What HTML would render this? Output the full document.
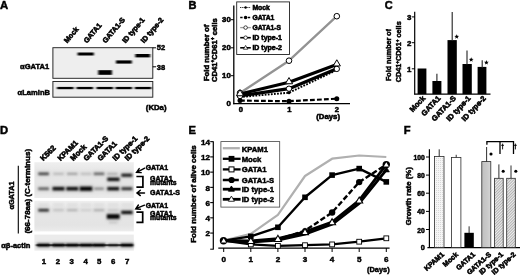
<!DOCTYPE html>
<html>
<head>
<meta charset="utf-8">
<title>Figure</title>
<style>
html,body{margin:0;padding:0;background:#fff;}
body{width:520px;height:276px;overflow:hidden;}
svg{display:block;}
text{font-family:"Liberation Sans",sans-serif;font-weight:bold;fill:#000;stroke:#000;}
svg{stroke-width:0.48px;}
</style>
</head>
<body>
<svg width="520" height="276" viewBox="0 0 520 276">
<defs>
<filter id="bl" x="-20%" y="-80%" width="140%" height="260%"><feGaussianBlur stdDeviation="0.9 0.7"/></filter>
<filter id="bl2" x="-30%" y="-150%" width="160%" height="400%"><feGaussianBlur stdDeviation="1.25 0.8"/></filter>
<filter id="bl3" x="-30%" y="-150%" width="160%" height="400%"><feGaussianBlur stdDeviation="1.6 1.5"/></filter>
<filter id="soft"><feGaussianBlur stdDeviation="0.38"/></filter>
<linearGradient id="gbg" x1="0" y1="0" x2="0" y2="1"><stop offset="0" stop-color="#efefef"/><stop offset="0.25" stop-color="#e6e6e6"/><stop offset="0.8" stop-color="#e4e4e4"/><stop offset="1" stop-color="#ececec"/></linearGradient>
<linearGradient id="gbar" x1="0" y1="0" x2="1" y2="0"><stop offset="0" stop-color="#c0c0c0"/><stop offset="0.6" stop-color="#cacaca"/><stop offset="1" stop-color="#d6d6d6"/></linearGradient>
<pattern id="hatch" width="2" height="2" patternUnits="userSpaceOnUse" patternTransform="rotate(45)">
<rect width="2" height="2" fill="#ededed"/><rect width="1" height="2" fill="#b2b2b2"/>
</pattern>
<pattern id="dots" width="2" height="2" patternUnits="userSpaceOnUse">
<rect width="2" height="2" fill="#f6f6f6"/><rect width="1" height="1" fill="#d8d8d8"/>
</pattern>
</defs>
<rect width="520" height="276" fill="#fff"/>
<g filter="url(#soft)">
<g id="pA">
<text x="0" y="8.5" font-size="11.3">A</text>
<text transform="translate(67.2,43.6) rotate(-50)" font-size="7.25" stroke-width="0.58">Mock</text>
<text transform="translate(86.9,43.6) rotate(-50)" font-size="7.25" stroke-width="0.58">GATA1</text>
<text transform="translate(105.7,43.6) rotate(-50)" font-size="7.25" stroke-width="0.58">GATA1-S</text>
<text transform="translate(125.5,43.6) rotate(-50)" font-size="7.25" stroke-width="0.58">ID type-1</text>
<text transform="translate(144.1,43.6) rotate(-50)" font-size="7.25" stroke-width="0.58">ID type-2</text>
<rect x="52.9" y="47.7" width="99.9" height="30.6" fill="#eeeeee" stroke="#222" stroke-width="0.95"/>
<rect x="52.9" y="81.5" width="99.9" height="15.7" fill="#eeeeee" stroke="#222" stroke-width="0.95"/>
<g filter="url(#bl)" fill="#0a0a0a">
<rect x="77.6" y="52.5" width="16.2" height="3" fill="#000"/>
<rect x="98.2" y="70.2" width="13.8" height="4.6" fill="#000"/>
<rect x="116" y="60.4" width="15.8" height="3.2" fill="#000"/>
<rect x="135.3" y="54" width="14.8" height="3.4" fill="#000"/>
<rect x="57" y="86.9" width="16.6" height="2.3" fill="#000"/>
<rect x="76.5" y="86.9" width="16.6" height="2.3" fill="#000"/>
<rect x="96.5" y="86.9" width="16.6" height="2.3" fill="#000"/>
<rect x="115.5" y="86.9" width="16.6" height="2.3" fill="#000"/>
<rect x="134.8" y="86.9" width="16.6" height="2.3" fill="#000"/>
</g>
<line x1="152.7" y1="47.8" x2="156" y2="47.8" stroke="#000" stroke-width="1"/>
<line x1="152.7" y1="66.8" x2="156" y2="66.8" stroke="#000" stroke-width="1"/>
<text x="156.8" y="50" font-size="7.8" textLength="8.4" lengthAdjust="spacingAndGlyphs">52</text>
<text x="156.8" y="69.8" font-size="7.8" textLength="8.4" lengthAdjust="spacingAndGlyphs">38</text>
<text x="20" y="68.6" font-size="7.5" textLength="29.2" lengthAdjust="spacingAndGlyphs">αGATA1</text>
<text x="17.6" y="94.6" font-size="7.5" textLength="32.4" lengthAdjust="spacingAndGlyphs">αLaminB</text>
<text x="145.8" y="110.4" font-size="7.4" textLength="20.7" lengthAdjust="spacingAndGlyphs">(KDa)</text>
</g>
<g id="pB" style="stroke-width:0.55px">
<text x="188.5" y="8.5" font-size="11">B</text>
<text transform="translate(208.7,81.2) rotate(-90)" font-size="7.7" textLength="56.5" lengthAdjust="spacingAndGlyphs">Fold number of</text>
<text transform="translate(217.0,82) rotate(-90)" font-size="7.7" textLength="63.8" lengthAdjust="spacingAndGlyphs">CD41<tspan font-size="4.8" dy="-2.6">+</tspan><tspan dy="2.6">CD61</tspan><tspan font-size="4.8" dy="-2.6">+</tspan><tspan dy="2.6"> cells</tspan></text>
<line x1="233.8" y1="5.5" x2="233.8" y2="104.2" stroke="#000" stroke-width="1.3"/>
<line x1="233.2" y1="103.6" x2="350" y2="103.6" stroke="#000" stroke-width="1.4"/>
<line x1="231" y1="19.7" x2="234" y2="19.7" stroke="#000" stroke-width="1"/>
<line x1="231" y1="47.8" x2="234" y2="47.8" stroke="#000" stroke-width="1"/>
<line x1="231" y1="75.7" x2="234" y2="75.7" stroke="#000" stroke-width="1"/>
<text x="230.8" y="21.9" font-size="7.8" text-anchor="end">30</text>
<text x="230.8" y="50.0" font-size="7.8" text-anchor="end">20</text>
<text x="230.8" y="78.0" font-size="7.8" text-anchor="end">10</text>
<text x="230.8" y="106.3" font-size="7.8" text-anchor="end">0</text>
<text x="240.8" y="112.3" font-size="7.6" text-anchor="middle">0</text>
<text x="289.3" y="112.3" font-size="7.6" text-anchor="middle">1</text>
<text x="336.8" y="112.3" font-size="7.6" text-anchor="middle">2</text>
<text x="316.2" y="119.4" font-size="7.5" textLength="23.8" lengthAdjust="spacingAndGlyphs">(Days)</text>
<polyline points="240,93 289,60.7 336.8,16.2" fill="none" stroke="#939393" stroke-width="2.3" stroke-linejoin="round"/>
<polyline points="240,95.8 289,88.7 336.8,68.8" fill="none" stroke="#000" stroke-width="3.2" stroke-linejoin="round"/>
<polyline points="240,94 289,82.2 336.8,64.6" fill="none" stroke="#000" stroke-width="3.2" stroke-linejoin="round"/>
<polyline points="240,97 289,92.7 336.8,70" fill="none" stroke="#000" stroke-width="1.9" stroke-linejoin="round" stroke-dasharray="1.8 1.3"/>
<polyline points="240,100.6 289,101.2 336.8,98.7" fill="none" stroke="#000" stroke-width="2.2" stroke-linejoin="round" stroke-dasharray="4.8 2.2"/>
<circle cx="240" cy="93" r="2.8" fill="#fff" stroke="#000" stroke-width="1"/>
<circle cx="289" cy="60.7" r="2.8" fill="#fff" stroke="#000" stroke-width="1"/>
<circle cx="336.8" cy="16.2" r="2.8" fill="#fff" stroke="#000" stroke-width="1"/>
<circle cx="240" cy="96" r="2.7" fill="#fff" stroke="#000" stroke-width="1"/>
<circle cx="289" cy="88.7" r="2.7" fill="#fff" stroke="#000" stroke-width="1"/>
<circle cx="336.8" cy="68.9" r="2.7" fill="#fff" stroke="#000" stroke-width="1"/>
<path d="M240,89.56 L243.60,95.76 L236.40,95.76Z" fill="#fff" stroke="#000" stroke-width="1"/>
<path d="M289,77.56 L292.60,83.76 L285.40,83.76Z" fill="#fff" stroke="#000" stroke-width="1"/>
<path d="M336.8,59.76 L340.40,65.96 L333.20,65.96Z" fill="#fff" stroke="#000" stroke-width="1"/>
<circle cx="240" cy="100.6" r="2.5" fill="#000"/>
<circle cx="289" cy="101.2" r="2.5" fill="#000"/>
<circle cx="336.8" cy="98.7" r="2.5" fill="#000"/>
<circle cx="289" cy="92.8" r="1.5" fill="#000"/>
<rect x="236.7" y="1.9" width="52.8" height="52.6" fill="#fff" stroke="#222" stroke-width="0.9"/>
<text x="252.4" y="9.9" font-size="7" textLength="17.4" lengthAdjust="spacingAndGlyphs">Mock</text>
<text x="252.4" y="19.98" font-size="7" textLength="22" lengthAdjust="spacingAndGlyphs">GATA1</text>
<text x="252.4" y="30.060000000000002" font-size="7" textLength="28.7" lengthAdjust="spacingAndGlyphs">GATA1-S</text>
<text x="252.4" y="40.14" font-size="7" textLength="29.5" lengthAdjust="spacingAndGlyphs">ID type-1</text>
<text x="252.4" y="50.22" font-size="7" textLength="29.5" lengthAdjust="spacingAndGlyphs">ID type-2</text>
<line x1="240.2" y1="7.5" x2="250.8" y2="7.5" stroke="#000" stroke-width="1" stroke-dasharray="1.1 1"/>
<circle cx="245.6" cy="7.5" r="1.2" fill="#000"/>
<line x1="240.2" y1="17.5" x2="250.8" y2="17.5" stroke="#000" stroke-width="1.3" stroke-dasharray="2.4 1.4"/>
<circle cx="245.6" cy="17.5" r="1.7" fill="#000"/>
<line x1="240.2" y1="27.6" x2="250.8" y2="27.6" stroke="#999" stroke-width="1.3"/>
<circle cx="245.6" cy="27.6" r="1.8" fill="#fff" stroke="#000" stroke-width="0.7"/>
<line x1="240.2" y1="37.7" x2="250.8" y2="37.7" stroke="#000" stroke-width="1.6"/>
<circle cx="245.6" cy="37.7" r="1.8" fill="#fff" stroke="#000" stroke-width="0.7"/>
<line x1="240.2" y1="47.8" x2="250.8" y2="47.8" stroke="#000" stroke-width="1.6"/>
<path d="M245.6,45.44 L247.80,49.24 L243.40,49.24Z" fill="#fff" stroke="#000" stroke-width="0.7"/>
</g>
<g id="pC">
<text x="384.7" y="8.6" font-size="11">C</text>
<text transform="translate(391.2,81) rotate(-90)" font-size="7.3" textLength="52" lengthAdjust="spacingAndGlyphs">Fold number of</text>
<text transform="translate(401.2,82.3) rotate(-90)" font-size="7.3" textLength="61" lengthAdjust="spacingAndGlyphs">CD41<tspan font-size="4.8" dy="-2.6">+</tspan><tspan dy="2.6">CD61</tspan><tspan font-size="4.8" dy="-2.6">+</tspan><tspan dy="2.6"> cells</tspan></text>
<line x1="414.7" y1="11.8" x2="414.7" y2="94.6" stroke="#000" stroke-width="1.2"/>
<line x1="414.2" y1="94.1" x2="490.5" y2="94.1" stroke="#000" stroke-width="1.2"/>
<line x1="411.8" y1="16.9" x2="415" y2="16.9" stroke="#000" stroke-width="1"/>
<line x1="411.8" y1="42.7" x2="415" y2="42.7" stroke="#000" stroke-width="1"/>
<line x1="411.8" y1="68.8" x2="415" y2="68.8" stroke="#000" stroke-width="1"/>
<text x="411.3" y="19.8" font-size="7.9" text-anchor="end">3</text>
<text x="411.3" y="45.7" font-size="7.9" text-anchor="end">2</text>
<text x="411.3" y="71.7" font-size="7.9" text-anchor="end">1</text>
<rect x="417.6" y="68.5" width="8.8" height="25.6" fill="#000"/>
<rect x="432.4" y="81" width="9" height="13.1" fill="#000"/>
<rect x="447.5" y="40.1" width="9.3" height="54" fill="#000"/>
<rect x="462.5" y="64" width="9.3" height="30.1" fill="#000"/>
<rect x="477.6" y="66.9" width="8.8" height="27.2" fill="#000"/>
<line x1="436.9" y1="73.8" x2="436.9" y2="81" stroke="#222" stroke-width="1.1"/>
<line x1="452.2" y1="12" x2="452.2" y2="41" stroke="#222" stroke-width="1.1"/>
<line x1="467" y1="50.5" x2="467" y2="64.5" stroke="#222" stroke-width="1.1"/>
<line x1="482.2" y1="60.2" x2="482.2" y2="68" stroke="#222" stroke-width="1.1"/>
<polygon points="456.70,34.20 457.32,35.85 459.08,35.93 457.70,37.02 458.17,38.72 456.70,37.75 455.23,38.72 455.70,37.02 454.32,35.93 456.08,35.85" fill="#000"/>
<polygon points="471.20,57.20 471.82,58.85 473.58,58.93 472.20,60.02 472.67,61.72 471.20,60.75 469.73,61.72 470.20,60.02 468.82,58.93 470.58,58.85" fill="#000"/>
<polygon points="486.40,60.10 487.02,61.75 488.78,61.83 487.40,62.92 487.87,64.62 486.40,63.65 484.93,64.62 485.40,62.92 484.02,61.83 485.78,61.75" fill="#000"/>
<text transform="translate(425.8,98.6) rotate(-47)" font-size="7.5" text-anchor="end" stroke-width="0.58">Mock</text>
<text transform="translate(441,98.6) rotate(-47)" font-size="7.5" text-anchor="end" stroke-width="0.58">GATA1</text>
<text transform="translate(456.4,98.6) rotate(-47)" font-size="7.5" text-anchor="end" stroke-width="0.58">GATA1-S</text>
<text transform="translate(471.2,98.6) rotate(-47)" font-size="7.5" text-anchor="end" stroke-width="0.58">ID type-1</text>
<text transform="translate(486.4,98.6) rotate(-47)" font-size="7.5" text-anchor="end" stroke-width="0.58">ID type-2</text>
</g>
<g id="pD">
<text x="0" y="133.8" font-size="11.2">D</text>
<text transform="translate(43.3,161.3) rotate(-45)" font-size="7.6" stroke-width="0.6">K562</text>
<text transform="translate(60.5,161.3) rotate(-45)" font-size="7.4" stroke-width="0.6">KPAM1</text>
<text transform="translate(73.3,161.3) rotate(-45)" font-size="7.6" stroke-width="0.6">Mock</text>
<text transform="translate(86.5,161.3) rotate(-45)" font-size="7.4" stroke-width="0.6">GATA1-S</text>
<text transform="translate(100.5,161.3) rotate(-45)" font-size="7.4" stroke-width="0.6">GATA1</text>
<text transform="translate(115.6,161.3) rotate(-45)" font-size="7.45" stroke-width="0.6">ID type-1</text>
<text transform="translate(127.8,161.3) rotate(-45)" font-size="7.45" stroke-width="0.6">ID type-2</text>
<rect x="34.4" y="162.2" width="99.4" height="35.8" fill="url(#gbg)"/>
<rect x="34.4" y="200.8" width="99.4" height="30.6" fill="url(#gbg)"/>
<rect x="34.4" y="234.6" width="99.4" height="16" fill="#ebebeb"/>
<rect x="37.8" y="171.3" width="11.6" height="5.0" fill="#000" fill-opacity="0.12" filter="url(#bl3)"/>
<rect x="38.4" y="172.7" width="10.4" height="2.2" fill="#000" fill-opacity="0.72" filter="url(#bl2)"/>
<rect x="52.7" y="171.5" width="11.6" height="4.6" fill="#000" fill-opacity="0.03" filter="url(#bl3)"/>
<rect x="53.3" y="172.9" width="10.4" height="1.8" fill="#000" fill-opacity="0.20" filter="url(#bl2)"/>
<rect x="66.5" y="171.5" width="11.6" height="4.6" fill="#000" fill-opacity="0.05" filter="url(#bl3)"/>
<rect x="67.1" y="172.9" width="10.4" height="1.8" fill="#000" fill-opacity="0.30" filter="url(#bl2)"/>
<rect x="80.2" y="171.5" width="11.6" height="4.6" fill="#000" fill-opacity="0.03" filter="url(#bl3)"/>
<rect x="80.8" y="172.9" width="10.4" height="1.8" fill="#000" fill-opacity="0.18" filter="url(#bl2)"/>
<rect x="93.2" y="171.3" width="11.6" height="5.0" fill="#000" fill-opacity="0.09" filter="url(#bl3)"/>
<rect x="93.8" y="172.7" width="10.4" height="2.2" fill="#000" fill-opacity="0.55" filter="url(#bl2)"/>
<rect x="106.6" y="171.5" width="11.6" height="4.6" fill="#000" fill-opacity="0.04" filter="url(#bl3)"/>
<rect x="107.2" y="172.9" width="10.4" height="1.8" fill="#000" fill-opacity="0.24" filter="url(#bl2)"/>
<rect x="120.8" y="172.4" width="12.0" height="5.6" fill="#000" fill-opacity="0.14" filter="url(#bl3)"/>
<rect x="121.4" y="173.8" width="10.8" height="2.8" fill="#000" fill-opacity="0.90" filter="url(#bl2)"/>
<rect x="106.8" y="176.4" width="13.2" height="5.8" fill="#000" fill-opacity="0.16" filter="url(#bl3)"/>
<rect x="107.4" y="177.8" width="12.0" height="3.0" fill="#000" fill-opacity="0.97" filter="url(#bl2)"/>
<rect x="37.7" y="186.2" width="11.8" height="5.0" fill="#000" fill-opacity="0.10" filter="url(#bl3)"/>
<rect x="38.3" y="187.6" width="10.6" height="2.2" fill="#000" fill-opacity="0.60" filter="url(#bl2)"/>
<rect x="52.0" y="185.7" width="13.0" height="6.0" fill="#000" fill-opacity="0.16" filter="url(#bl3)"/>
<rect x="52.6" y="187.1" width="11.8" height="3.2" fill="#000" fill-opacity="0.97" filter="url(#bl2)"/>
<rect x="65.8" y="185.7" width="13.0" height="6.0" fill="#000" fill-opacity="0.16" filter="url(#bl3)"/>
<rect x="66.4" y="187.1" width="11.8" height="3.2" fill="#000" fill-opacity="0.97" filter="url(#bl2)"/>
<rect x="79.2" y="185.3" width="13.6" height="6.8" fill="#000" fill-opacity="0.16" filter="url(#bl3)"/>
<rect x="79.8" y="186.7" width="12.4" height="4.0" fill="#000" fill-opacity="1.00" filter="url(#bl2)"/>
<rect x="93.6" y="186.3" width="10.8" height="4.8" fill="#000" fill-opacity="0.06" filter="url(#bl3)"/>
<rect x="94.2" y="187.7" width="9.6" height="2.0" fill="#000" fill-opacity="0.40" filter="url(#bl2)"/>
<rect x="106.8" y="185.8" width="12.8" height="5.8" fill="#000" fill-opacity="0.16" filter="url(#bl3)"/>
<rect x="107.4" y="187.2" width="11.6" height="3.0" fill="#000" fill-opacity="0.97" filter="url(#bl2)"/>
<rect x="120.9" y="186.0" width="12.0" height="5.4" fill="#000" fill-opacity="0.13" filter="url(#bl3)"/>
<rect x="121.5" y="187.4" width="10.8" height="2.6" fill="#000" fill-opacity="0.80" filter="url(#bl2)"/>
<rect x="38.0" y="202.4" width="11.2" height="4.4" fill="#000" fill-opacity="0.01" filter="url(#bl3)"/>
<rect x="38.6" y="203.8" width="10.0" height="1.6" fill="#000" fill-opacity="0.07" filter="url(#bl2)"/>
<rect x="52.9" y="202.4" width="11.2" height="4.4" fill="#000" fill-opacity="0.01" filter="url(#bl3)"/>
<rect x="53.5" y="203.8" width="10.0" height="1.6" fill="#000" fill-opacity="0.07" filter="url(#bl2)"/>
<rect x="66.7" y="202.4" width="11.2" height="4.4" fill="#000" fill-opacity="0.01" filter="url(#bl3)"/>
<rect x="67.3" y="203.8" width="10.0" height="1.6" fill="#000" fill-opacity="0.07" filter="url(#bl2)"/>
<rect x="80.4" y="202.4" width="11.2" height="4.4" fill="#000" fill-opacity="0.01" filter="url(#bl3)"/>
<rect x="81.0" y="203.8" width="10.0" height="1.6" fill="#000" fill-opacity="0.07" filter="url(#bl2)"/>
<rect x="93.4" y="202.4" width="11.2" height="4.4" fill="#000" fill-opacity="0.01" filter="url(#bl3)"/>
<rect x="94.0" y="203.8" width="10.0" height="1.6" fill="#000" fill-opacity="0.07" filter="url(#bl2)"/>
<rect x="107.6" y="202.4" width="11.2" height="4.4" fill="#000" fill-opacity="0.01" filter="url(#bl3)"/>
<rect x="108.2" y="203.8" width="10.0" height="1.6" fill="#000" fill-opacity="0.07" filter="url(#bl2)"/>
<rect x="121.3" y="202.4" width="11.2" height="4.4" fill="#000" fill-opacity="0.01" filter="url(#bl3)"/>
<rect x="121.9" y="203.8" width="10.0" height="1.6" fill="#000" fill-opacity="0.07" filter="url(#bl2)"/>
<rect x="37.8" y="207.6" width="11.6" height="5.2" fill="#000" fill-opacity="0.13" filter="url(#bl3)"/>
<rect x="38.4" y="209.0" width="10.4" height="2.4" fill="#000" fill-opacity="0.82" filter="url(#bl2)"/>
<rect x="52.7" y="207.9" width="11.6" height="4.5" fill="#000" fill-opacity="0.03" filter="url(#bl3)"/>
<rect x="53.3" y="209.3" width="10.4" height="1.7" fill="#000" fill-opacity="0.17" filter="url(#bl2)"/>
<rect x="66.5" y="207.9" width="11.6" height="4.5" fill="#000" fill-opacity="0.04" filter="url(#bl3)"/>
<rect x="67.1" y="209.3" width="10.4" height="1.7" fill="#000" fill-opacity="0.24" filter="url(#bl2)"/>
<rect x="80.2" y="207.9" width="11.6" height="4.5" fill="#000" fill-opacity="0.02" filter="url(#bl3)"/>
<rect x="80.8" y="209.3" width="10.4" height="1.7" fill="#000" fill-opacity="0.10" filter="url(#bl2)"/>
<rect x="93.2" y="207.9" width="11.6" height="4.6" fill="#000" fill-opacity="0.04" filter="url(#bl3)"/>
<rect x="93.8" y="209.3" width="10.4" height="1.8" fill="#000" fill-opacity="0.26" filter="url(#bl2)"/>
<rect x="107.4" y="207.9" width="11.6" height="4.5" fill="#000" fill-opacity="0.02" filter="url(#bl3)"/>
<rect x="108.0" y="209.3" width="10.4" height="1.7" fill="#000" fill-opacity="0.14" filter="url(#bl2)"/>
<rect x="120.7" y="209.5" width="12.4" height="5.8" fill="#000" fill-opacity="0.15" filter="url(#bl3)"/>
<rect x="121.3" y="210.9" width="11.2" height="3.0" fill="#000" fill-opacity="0.95" filter="url(#bl2)"/>
<rect x="106.3" y="212.9" width="13.8" height="7.2" fill="#000" fill-opacity="0.16" filter="url(#bl3)"/>
<rect x="106.9" y="214.3" width="12.6" height="4.4" fill="#000" fill-opacity="1.00" filter="url(#bl2)"/>
<rect x="108.4" y="220.2" width="9.7" height="4.3" fill="#000" fill-opacity="0.02" filter="url(#bl3)"/>
<rect x="109.0" y="221.7" width="8.5" height="1.5" fill="#000" fill-opacity="0.14" filter="url(#bl2)"/>
<rect x="36" y="244.2" width="97" height="2" fill="#000" fill-opacity="0.7" filter="url(#bl)"/>
<rect x="36.7" y="242.3" width="13.8" height="5.6" fill="#000" fill-opacity="0.16" filter="url(#bl3)"/>
<rect x="37.3" y="243.7" width="12.6" height="2.8" fill="#000" fill-opacity="0.97" filter="url(#bl2)"/>
<rect x="51.6" y="242.3" width="13.8" height="5.6" fill="#000" fill-opacity="0.16" filter="url(#bl3)"/>
<rect x="52.2" y="243.7" width="12.6" height="2.8" fill="#000" fill-opacity="0.97" filter="url(#bl2)"/>
<rect x="65.4" y="242.3" width="13.8" height="5.6" fill="#000" fill-opacity="0.16" filter="url(#bl3)"/>
<rect x="66.0" y="243.7" width="12.6" height="2.8" fill="#000" fill-opacity="0.97" filter="url(#bl2)"/>
<rect x="79.1" y="242.3" width="13.8" height="5.6" fill="#000" fill-opacity="0.16" filter="url(#bl3)"/>
<rect x="79.7" y="243.7" width="12.6" height="2.8" fill="#000" fill-opacity="0.97" filter="url(#bl2)"/>
<rect x="92.1" y="242.3" width="13.8" height="5.6" fill="#000" fill-opacity="0.16" filter="url(#bl3)"/>
<rect x="92.7" y="243.7" width="12.6" height="2.8" fill="#000" fill-opacity="0.97" filter="url(#bl2)"/>
<rect x="107.4" y="242.8" width="11.7" height="4.8" fill="#000" fill-opacity="0.12" filter="url(#bl3)"/>
<rect x="108.0" y="244.2" width="10.5" height="2.0" fill="#000" fill-opacity="0.75" filter="url(#bl2)"/>
<rect x="120.0" y="242.3" width="13.8" height="5.6" fill="#000" fill-opacity="0.16" filter="url(#bl3)"/>
<rect x="120.6" y="243.7" width="12.6" height="2.8" fill="#000" fill-opacity="0.97" filter="url(#bl2)"/>
<text x="44" y="263.8" font-size="7.8" text-anchor="middle">1</text>
<text x="58" y="263.8" font-size="7.8" text-anchor="middle">2</text>
<text x="71.6" y="263.8" font-size="7.8" text-anchor="middle">3</text>
<text x="85.6" y="263.8" font-size="7.8" text-anchor="middle">4</text>
<text x="99.1" y="263.8" font-size="7.8" text-anchor="middle">5</text>
<text x="113.1" y="263.8" font-size="7.8" text-anchor="middle">6</text>
<text x="127.2" y="263.8" font-size="7.8" text-anchor="middle">7</text>
<line x1="18.3" y1="165.7" x2="18.3" y2="233.6" stroke="#000" stroke-width="1.1"/>
<text transform="translate(14.2,209.6) rotate(-90)" font-size="7.5" textLength="28.1" lengthAdjust="spacingAndGlyphs">αGATA1</text>
<text transform="translate(29.5,196.7) rotate(-90)" font-size="7.4" textLength="47.8" lengthAdjust="spacingAndGlyphs">(C-terminus)</text>
<text transform="translate(29.6,233.6) rotate(-90)" font-size="7.4" textLength="34.8" lengthAdjust="spacingAndGlyphs">(66-78aa)</text>
<text x="1.2" y="247.5" font-size="7.4" textLength="29.2" lengthAdjust="spacingAndGlyphs">αβ-actin</text>
<text x="145.7" y="169.6" font-size="6.9" textLength="22.5" lengthAdjust="spacingAndGlyphs">GATA1</text>
<text x="150" y="180.6" font-size="6.9" textLength="22.6" lengthAdjust="spacingAndGlyphs">GATA1</text>
<text x="150" y="184.9" font-size="6.9" textLength="26.6" lengthAdjust="spacingAndGlyphs">mutants</text>
<text x="150" y="194.9" font-size="7.1" textLength="30" lengthAdjust="spacingAndGlyphs">GATA1-S</text>
<text x="145.7" y="207.6" font-size="6.9" textLength="22.5" lengthAdjust="spacingAndGlyphs">GATA1</text>
<text x="150" y="216.4" font-size="6.9" textLength="22.6" lengthAdjust="spacingAndGlyphs">GATA1</text>
<text x="150" y="220.3" font-size="6.9" textLength="26.6" lengthAdjust="spacingAndGlyphs">mutants</text>
<g stroke="#000" stroke-width="1.45" fill="none" stroke-linecap="round">
<path d="M144.7,168.2 L136.8,172.3 M139.2,168.6 L136.6,172.4 L141.2,172.6"/>
<path d="M144.5,192.9 L137.2,192.9 M140.3,190.2 L137,192.9 L140.3,195.6"/>
<path d="M144.5,205.2 L136,208.7 M138.4,205 L135.8,208.8 L140.4,209.2"/>
</g>
<path d="M136.4,176.5 H142.9 V187.2 H136.4" fill="none" stroke="#000" stroke-width="1.7"/>
<path d="M136.4,212.2 H142.7 V222.4 H136.4" fill="none" stroke="#000" stroke-width="1.7"/>
</g>
<g id="pE">
<text x="188.4" y="133.8" font-size="11.2">E</text>
<text transform="translate(196.3,242.8) rotate(-90)" font-size="7.6" textLength="97.6" lengthAdjust="spacingAndGlyphs">Fold number of alive cells</text>
<line x1="213.3" y1="141.4" x2="213.3" y2="249.6" stroke="#000" stroke-width="1.2"/>
<line x1="218.3" y1="248.2" x2="389.6" y2="248.2" stroke="#000" stroke-width="1.3"/>
<line x1="210.2" y1="141.66" x2="213.5" y2="141.66" stroke="#000" stroke-width="1.1"/>
<text x="209.9" y="144.96" font-size="8.1" text-anchor="end">14</text>
<line x1="210.2" y1="156.9" x2="213.5" y2="156.9" stroke="#000" stroke-width="1.1"/>
<text x="209.9" y="160.2" font-size="8.1" text-anchor="end">12</text>
<line x1="210.2" y1="172.13" x2="213.5" y2="172.13" stroke="#000" stroke-width="1.1"/>
<text x="209.9" y="175.43" font-size="8.1" text-anchor="end">10</text>
<line x1="210.2" y1="187.36" x2="213.5" y2="187.36" stroke="#000" stroke-width="1.1"/>
<text x="209.9" y="190.66" font-size="8.1" text-anchor="end">8</text>
<line x1="210.2" y1="202.6" x2="213.5" y2="202.6" stroke="#000" stroke-width="1.1"/>
<text x="209.9" y="205.9" font-size="8.1" text-anchor="end">6</text>
<line x1="210.2" y1="217.83" x2="213.5" y2="217.83" stroke="#000" stroke-width="1.1"/>
<text x="209.9" y="221.13" font-size="8.1" text-anchor="end">4</text>
<line x1="210.2" y1="233.07" x2="213.5" y2="233.07" stroke="#000" stroke-width="1.1"/>
<text x="209.9" y="236.37" font-size="8.1" text-anchor="end">2</text>
<line x1="210.2" y1="249.2" x2="213.5" y2="249.2" stroke="#000" stroke-width="1"/>
<line x1="223.7" y1="248" x2="223.7" y2="252" stroke="#000" stroke-width="1"/>
<text x="223.7" y="262.1" font-size="8.1" text-anchor="middle">0</text>
<line x1="250.8" y1="248" x2="250.8" y2="252" stroke="#000" stroke-width="1"/>
<text x="250.8" y="262.1" font-size="8.1" text-anchor="middle">1</text>
<line x1="277.9" y1="248" x2="277.9" y2="252" stroke="#000" stroke-width="1"/>
<text x="277.9" y="262.1" font-size="8.1" text-anchor="middle">2</text>
<line x1="305.0" y1="248" x2="305.0" y2="252" stroke="#000" stroke-width="1"/>
<text x="305.0" y="262.1" font-size="8.1" text-anchor="middle">3</text>
<line x1="332.1" y1="248" x2="332.1" y2="252" stroke="#000" stroke-width="1"/>
<text x="332.1" y="262.1" font-size="8.1" text-anchor="middle">4</text>
<line x1="359.2" y1="248" x2="359.2" y2="252" stroke="#000" stroke-width="1"/>
<text x="359.2" y="262.1" font-size="8.1" text-anchor="middle">5</text>
<line x1="386.3" y1="248" x2="386.3" y2="252" stroke="#000" stroke-width="1"/>
<text x="386.3" y="262.1" font-size="8.1" text-anchor="middle">6</text>
<text x="367" y="272.2" font-size="7.3" textLength="22.6" lengthAdjust="spacingAndGlyphs">(Days)</text>
<polyline points="223.7,240.6 250.8,233.8 277.9,214.8 305.0,176.0 332.1,158.7 359.2,155.5 386.3,157.0" fill="none" stroke="#b0b0b0" stroke-width="2.2" stroke-linejoin="round"/>
<polyline points="223.7,240.6 250.8,244.4 277.9,245.9 305.0,245.2 332.1,244.4 359.2,241.7 386.3,238.3" fill="none" stroke="#000" stroke-width="2.3" stroke-linejoin="round"/>
<polyline points="223.7,240.6 250.8,236.4 277.9,227.3 305.0,197.3 332.1,175.1 359.2,168.6 386.3,181.9" fill="none" stroke="#000" stroke-width="2.4" stroke-linejoin="round"/>
<polyline points="223.7,240.6 250.8,241.4 277.9,239.5 305.0,230.7 332.1,212.5 359.2,182.1 386.3,164.6" fill="none" stroke="#000" stroke-width="2.4" stroke-linejoin="round" stroke-dasharray="5.4 2.4"/>
<polyline points="223.7,240.6 250.8,242.0 277.9,240.2 305.0,234.1 332.1,224.3 359.2,203.4 386.3,169.9" fill="none" stroke="#000" stroke-width="2.8" stroke-linejoin="round"/>
<polyline points="223.7,240.6 250.8,240.8 277.9,238.7 305.0,231.9 332.1,222.0 359.2,200.3 386.3,164.6" fill="none" stroke="#000" stroke-width="2.8" stroke-linejoin="round"/>
<circle cx="223.5" cy="240.7" r="3.7" fill="#000"/>
<rect x="248.0" y="233.6" width="5.6" height="5.6" fill="#000"/>
<rect x="275.1" y="224.5" width="5.6" height="5.6" fill="#000"/>
<rect x="302.2" y="194.5" width="5.6" height="5.6" fill="#000"/>
<rect x="329.3" y="172.3" width="5.6" height="5.6" fill="#000"/>
<rect x="356.4" y="165.8" width="5.6" height="5.6" fill="#000"/>
<rect x="383.5" y="179.1" width="5.6" height="5.6" fill="#000"/>
<circle cx="305.0" cy="230.7" r="2.8" fill="#000"/>
<circle cx="332.1" cy="212.5" r="3.2" fill="#000"/>
<circle cx="359.2" cy="182.1" r="3.2" fill="#000"/>
<circle cx="386.3" cy="164.6" r="3.7" fill="#000"/>
<path d="M386.3,166.55 L389.43,171.95 L383.17,171.95Z" fill="#000" stroke="#000" stroke-width="0.6"/>
<rect x="248.4" y="242.0" width="4.8" height="4.8" fill="#fff" stroke="#000" stroke-width="0.9"/>
<rect x="275.5" y="243.5" width="4.8" height="4.8" fill="#fff" stroke="#000" stroke-width="0.9"/>
<rect x="302.6" y="242.8" width="4.8" height="4.8" fill="#fff" stroke="#000" stroke-width="0.9"/>
<rect x="329.7" y="242.0" width="4.8" height="4.8" fill="#fff" stroke="#000" stroke-width="0.9"/>
<rect x="356.8" y="239.3" width="4.8" height="4.8" fill="#fff" stroke="#000" stroke-width="0.9"/>
<rect x="383.9" y="235.9" width="4.8" height="4.8" fill="#fff" stroke="#000" stroke-width="0.9"/>
<path d="M223.7,238.23 L226.19,242.53 L221.21,242.53Z" fill="#fff" stroke="#000" stroke-width="0"/>
<path d="M250.8,237.36 L254.40,243.56 L247.20,243.56Z" fill="#fff" stroke="#000" stroke-width="1.1"/>
<path d="M277.9,235.26 L281.50,241.46 L274.30,241.46Z" fill="#fff" stroke="#000" stroke-width="1.1"/>
<path d="M305.0,228.58 L308.48,234.58 L301.52,234.58Z" fill="#fff" stroke="#000" stroke-width="1.1"/>
<path d="M332.1,218.68 L335.58,224.68 L328.62,224.68Z" fill="#fff" stroke="#000" stroke-width="1.1"/>
<path d="M359.2,196.98 L362.68,202.98 L355.72,202.98Z" fill="#fff" stroke="#000" stroke-width="1.1"/>
<path d="M386.3,162.23 L388.79,166.53 L383.81,166.53Z" fill="#fff" stroke="#000" stroke-width="0"/>
<rect x="220.9" y="141.6" width="58.8" height="65.5" fill="#fff" stroke="#444" stroke-width="0.8"/>
<text x="241.7" y="151.6" font-size="7.6" textLength="26.3" lengthAdjust="spacingAndGlyphs">KPAM1</text>
<text x="241.7" y="161.8" font-size="7.6" textLength="19.7" lengthAdjust="spacingAndGlyphs">Mock</text>
<text x="241.7" y="172.3" font-size="7.6" textLength="24.9" lengthAdjust="spacingAndGlyphs">GATA1</text>
<text x="241.7" y="182.8" font-size="7.6" textLength="32.4" lengthAdjust="spacingAndGlyphs">GATA1-S</text>
<text x="241.7" y="192.2" font-size="7.6" textLength="32.3" lengthAdjust="spacingAndGlyphs">ID type-1</text>
<text x="241.7" y="202.3" font-size="7.6" textLength="32.3" lengthAdjust="spacingAndGlyphs">ID type-2</text>
<line x1="222.8" y1="148.2" x2="239.8" y2="148.2" stroke="#b0b0b0" stroke-width="2.3"/>
<line x1="222.8" y1="158.8" x2="240.6" y2="158.8" stroke="#000" stroke-width="2.3"/>
<rect x="228.6" y="155.9" width="5.8" height="5.8" fill="#000"/>
<line x1="222.8" y1="169.4" x2="240.6" y2="169.4" stroke="#000" stroke-width="2.3"/>
<rect x="229" y="166.9" width="5" height="5" fill="#fff" stroke="#000" stroke-width="1"/>
<line x1="222.8" y1="180" x2="238.8" y2="180" stroke="#000" stroke-width="2.3" stroke-dasharray="7 2.4"/>
<circle cx="231.6" cy="180" r="3.1" fill="#000"/>
<line x1="222.8" y1="189.2" x2="240.6" y2="189.2" stroke="#000" stroke-width="2.8"/>
<path d="M231.4,185.98 L234.42,191.18 L228.38,191.18Z" fill="#000" stroke="#000" stroke-width="0.9"/>
<line x1="222.8" y1="199.3" x2="240.6" y2="199.3" stroke="#000" stroke-width="2.8"/>
<path d="M231.4,196.08 L234.42,201.28 L228.38,201.28Z" fill="#fff" stroke="#000" stroke-width="0.8"/>
</g>
<g id="pF">
<text x="403.8" y="133.8" font-size="11.2">F</text>
<text transform="translate(411.4,225.3) rotate(-90)" font-size="7.5" textLength="58.1" lengthAdjust="spacingAndGlyphs">Growth rate (%)</text>
<line x1="429.4" y1="149.3" x2="429.4" y2="248.1" stroke="#000" stroke-width="1.2"/>
<line x1="427.4" y1="247.6" x2="520" y2="247.6" stroke="#000" stroke-width="1.2"/>
<line x1="426" y1="157.0" x2="429.3" y2="157.0" stroke="#000" stroke-width="1"/>
<text x="424.7" y="160.0" font-size="7.3" text-anchor="end" textLength="11.3" lengthAdjust="spacingAndGlyphs">100</text>
<line x1="426" y1="175.1" x2="429.3" y2="175.1" stroke="#000" stroke-width="1"/>
<text x="424.7" y="178.1" font-size="7.3" text-anchor="end" textLength="7.5" lengthAdjust="spacingAndGlyphs">80</text>
<line x1="426" y1="193.2" x2="429.3" y2="193.2" stroke="#000" stroke-width="1"/>
<text x="424.7" y="196.2" font-size="7.3" text-anchor="end" textLength="7.5" lengthAdjust="spacingAndGlyphs">60</text>
<line x1="426" y1="211.4" x2="429.3" y2="211.4" stroke="#000" stroke-width="1"/>
<text x="424.7" y="214.4" font-size="7.3" text-anchor="end" textLength="7.5" lengthAdjust="spacingAndGlyphs">40</text>
<line x1="426" y1="229.5" x2="429.3" y2="229.5" stroke="#000" stroke-width="1"/>
<text x="424.7" y="232.5" font-size="7.3" text-anchor="end" textLength="7.5" lengthAdjust="spacingAndGlyphs">20</text>
<text x="424.7" y="250.4" font-size="7.3" text-anchor="end">0</text>
<g stroke="#2a2a2a" stroke-width="0.8">
<rect x="434.4" y="156.4" width="9.6" height="91" fill="url(#dots)"/>
<rect x="451.5" y="157.4" width="9.4" height="90" fill="#fff"/>
<rect x="481.8" y="161.6" width="9.0" height="86" fill="url(#gbar)"/>
<rect x="494.6" y="178.3" width="8.6" height="69.1" fill="url(#hatch)"/>
<rect x="506.7" y="178.3" width="8.6" height="69.1" fill="url(#hatch)"/>
</g>
<rect x="464.4" y="232.8" width="9.4" height="14.6" fill="#000"/>
<line x1="439.2" y1="149.3" x2="439.2" y2="156.4" stroke="#1a1a1a" stroke-width="0.9"/>
<line x1="456.2" y1="154.8" x2="456.2" y2="157.4" stroke="#1a1a1a" stroke-width="0.9"/>
<line x1="469.1" y1="226.3" x2="469.1" y2="233" stroke="#1a1a1a" stroke-width="0.9"/>
<line x1="486.6" y1="147" x2="486.6" y2="161.6" stroke="#1a1a1a" stroke-width="0.9"/>
<line x1="498.9" y1="164.4" x2="498.9" y2="178.3" stroke="#1a1a1a" stroke-width="0.9"/>
<line x1="511" y1="165.5" x2="511" y2="178.3" stroke="#1a1a1a" stroke-width="0.9"/>
<path d="M486.9,144.8 V141.7 H513.5 V154 M500,141.7 V154" fill="none" stroke="#000" stroke-width="1.3"/>
<path d="M502.6,143.6 V149.4 M501.2,145.3 H504 M515.4,143.6 V149.4 M514,145.3 H516.8" fill="none" stroke="#000" stroke-width="0.9"/>
<circle cx="491" cy="154" r="1.55" fill="#000"/>
<circle cx="503.2" cy="171.3" r="1.55" fill="#000"/>
<circle cx="515.8" cy="171.3" r="1.55" fill="#000"/>
<text transform="translate(444.6,255.2) rotate(-42)" font-size="7.0" text-anchor="end" stroke-width="0.58">KPAM1</text>
<text transform="translate(458.6,255.2) rotate(-42)" font-size="7.0" text-anchor="end" stroke-width="0.58">Mock</text>
<text transform="translate(475.6,255.2) rotate(-42)" font-size="7.0" text-anchor="end" stroke-width="0.58">GATA1</text>
<text transform="translate(491.6,255.2) rotate(-42)" font-size="7.0" text-anchor="end" stroke-width="0.58">GATA1-S</text>
<text transform="translate(503.6,255.2) rotate(-42)" font-size="7.0" text-anchor="end" stroke-width="0.58">ID type-1</text>
<text transform="translate(516.2,255.2) rotate(-42)" font-size="7.0" text-anchor="end" stroke-width="0.58">ID type-2</text>
</g>
</g>
</svg>
</body>
</html>
